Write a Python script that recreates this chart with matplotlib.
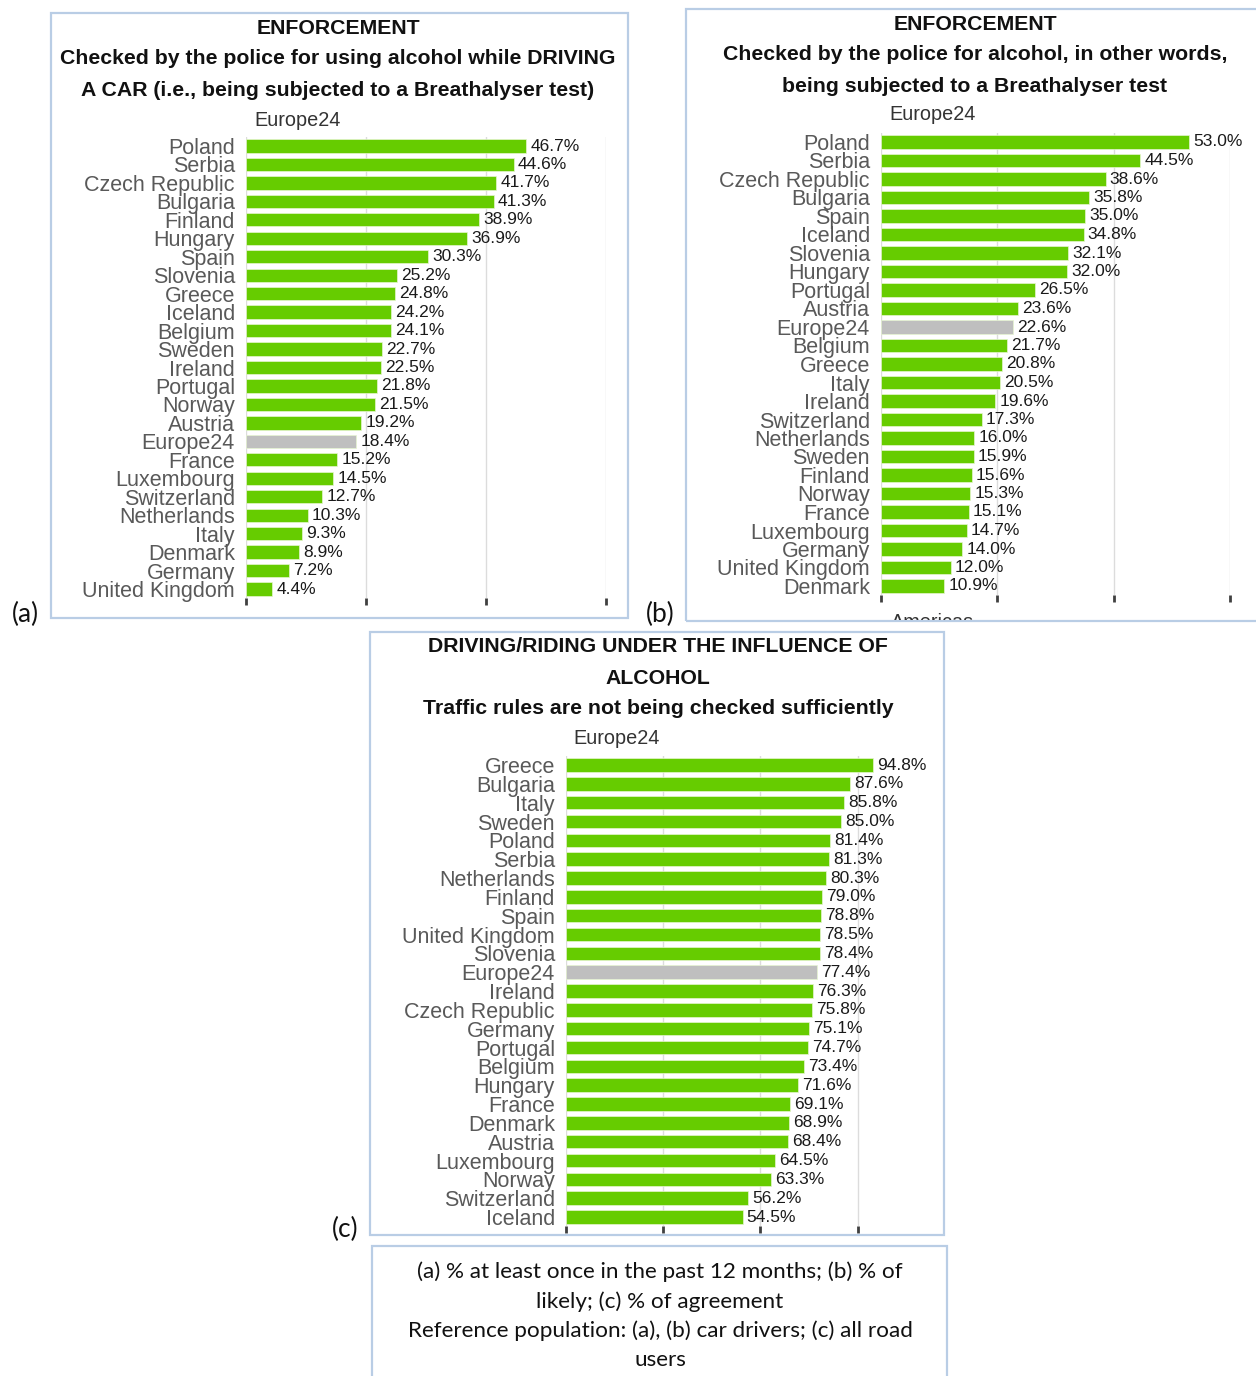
import matplotlib
matplotlib.use("Agg")
import matplotlib.pyplot as plt
from matplotlib.patches import Rectangle
from matplotlib.transforms import Bbox

W, H = 1256, 1376

# panel (a): checked for alcohol while driving a car
countries_a = ["Poland", "Serbia", "Czech Republic", "Bulgaria", "Finland", "Hungary",
               "Spain", "Slovenia", "Greece", "Iceland", "Belgium", "Sweden", "Ireland",
               "Portugal", "Norway", "Austria", "Europe24", "France", "Luxembourg",
               "Switzerland", "Netherlands", "Italy", "Denmark", "Germany", "United Kingdom"]
values_a = [46.7, 44.6, 41.7, 41.3, 38.9, 36.9, 30.3, 25.2, 24.8, 24.2, 24.1, 22.7, 22.5,
            21.8, 21.5, 19.2, 18.4, 15.2, 14.5, 12.7, 10.3, 9.3, 8.9, 7.2, 4.4]

# panel (b): likely to be breathalysed
countries_b = ["Poland", "Serbia", "Czech Republic", "Bulgaria", "Spain", "Iceland",
               "Slovenia", "Hungary", "Portugal", "Austria", "Europe24", "Belgium", "Greece",
               "Italy", "Ireland", "Switzerland", "Netherlands", "Sweden", "Finland", "Norway",
               "France", "Luxembourg", "Germany", "United Kingdom", "Denmark"]
values_b = [53.0, 44.5, 38.6, 35.8, 35.0, 34.8, 32.1, 32.0, 26.5, 23.6, 22.6, 21.7, 20.8,
            20.5, 19.6, 17.3, 16.0, 15.9, 15.6, 15.3, 15.1, 14.7, 14.0, 12.0, 10.9]

# panel (c): traffic rules not checked sufficiently
countries_c = ["Greece", "Bulgaria", "Italy", "Sweden", "Poland", "Serbia", "Netherlands",
               "Finland", "Spain", "United Kingdom", "Slovenia", "Europe24", "Ireland",
               "Czech Republic", "Germany", "Portugal", "Belgium", "Hungary", "France",
               "Denmark", "Austria", "Luxembourg", "Norway", "Switzerland", "Iceland"]
values_c = [94.8, 87.6, 85.8, 85.0, 81.4, 81.3, 80.3, 79.0, 78.8, 78.5, 78.4, 77.4, 76.3,
            75.8, 75.1, 74.7, 73.4, 71.6, 69.1, 68.9, 68.4, 64.5, 63.3, 56.2, 54.5]

titles_a = ["ENFORCEMENT",
            "Checked by the police for using alcohol while DRIVING",
            "A CAR (i.e., being subjected to a Breathalyser test)"]
titles_b = ["ENFORCEMENT",
            "Checked by the police for alcohol, in other words,",
            "being subjected to a Breathalyser test"]
titles_c = ["DRIVING/RIDING UNDER THE INFLUENCE OF",
            "ALCOHOL",
            "Traffic rules are not being checked sufficiently"]

caption = ["(a) % at least once in the past 12 months; (b) % of",
           "likely; (c) % of agreement",
           "Reference population: (a), (b) car drivers; (c) all road",
           "users"]

GREEN = "#66cc00"
GREY_BAR = "#bfbfbf"
BOX = "#b9cde5"
FONT = "Liberation Sans"

fig = plt.figure(figsize=(W / 100, H / 100), dpi=100)


def fx(x):
    return x / W


def fy(y):
    return 1 - y / H


def box(x0, y0, x1, y1):
    fig.add_artist(Rectangle((fx(x0), fy(y1)), (x1 - x0) / W, (y1 - y0) / H,
                             transform=fig.transFigure, fill=False,
                             edgecolor=BOX, lw=1.6))


def panel(names, vals, x0, scale, xmax, ticks, row0, row1, titles, title_x, title_y,
          eu_x, eu_y):
    n = len(names)
    sp = (row1 - row0) / (n - 1)
    top = row0 - sp / 2
    bot = row1 + sp / 2
    ax = fig.add_axes([fx(x0), fy(bot), xmax * scale / W, (bot - top) / H])
    cols = [GREY_BAR if c == "Europe24" else GREEN for c in names]
    ax.barh(range(n), vals, height=0.72, color=cols, edgecolor="#e6f5d0",
            linewidth=0.5, clip_on=False, zorder=3)
    for i, v in enumerate(vals):
        ax.annotate(f"{v:.1f}%", (v, i), xytext=(3, 0), textcoords="offset points",
                    va="center", ha="left", fontsize=12.5, color="#1a1a1a",
                    family=FONT, annotation_clip=False)
    ax.set_xlim(0, xmax)
    ax.set_ylim(n - 0.5, -0.5)
    ax.set_yticks(range(n))
    ax.set_yticklabels(names, fontsize=15.5, color="#595959", family=FONT)
    ax.tick_params(axis="y", length=0, pad=8)
    ax.set_xticks(ticks)
    ax.set_xticklabels([])
    ax.tick_params(axis="x", direction="out", length=5, width=2, color="#404040", pad=0)
    for t in ticks:
        ax.axvline(t, color="#dcdcdc", lw=1, zorder=0)
    for s in ax.spines.values():
        s.set_visible(False)
    for k, t in enumerate(titles):
        fig.text(fx(title_x), fy(title_y[k]), t, ha="center", va="center",
                 fontsize=15.3, fontweight="bold", color="#111111", family=FONT)
    fig.text(fx(eu_x), fy(eu_y), "Europe24", ha="center", va="center",
             fontsize=14.3, color="#333333", family=FONT)
    return ax


# panel boxes
box(51, 13, 628, 618)
box(686, 9, 1262, 621)
box(370, 632, 944, 1235)
box(372, 1246, 947, 1382)

panel(countries_a, values_a, 246, 6.0, 60, [0, 20, 40, 60], 146, 589,
      titles_a, 338, [28, 59, 90], 298, 120)
panel(countries_b, values_b, 881, 5.82, 60, [0, 20, 40, 60], 142, 586,
      titles_b, 975, [24, 55, 86], 933, 115)
panel(countries_c, values_c, 566, 3.24, 100, [0, 30, 60, 90], 765, 1217,
      titles_c, 658, [647, 678, 709], 617, 739)

# cut-off heading of the next chart in panel (b)
t = fig.text(fx(933), fy(613), "Americas", ha="center", va="top", fontsize=14.3,
             color="#333333", family=FONT)
t.set_clip_box(Bbox([[686, H - 620], [1256, H - 9]]))
t.set_clip_on(True)

# panel letters
for lab, x, y in [("(a)", 25, 614), ("(b)", 660, 614), ("(c)", 345, 1229)]:
    fig.text(fx(x), fy(y), lab, ha="center", va="center", fontsize=19,
             color="#111111", family="Lato")

for k, line in enumerate(caption):
    fig.text(fx(660), fy(1272 + k * 29.5), line, ha="center", va="center",
             fontsize=16.2, color="#111111", family="Lato")

fig.savefig("out.png", dpi=100)
